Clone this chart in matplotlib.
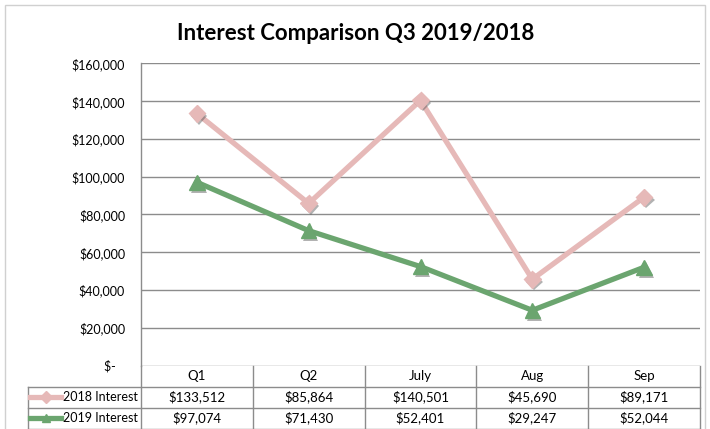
import matplotlib
matplotlib.use("Agg")
import matplotlib.pyplot as plt
import matplotlib.transforms as mtransforms
import matplotlib.patheffects as pe
from matplotlib.lines import Line2D
from matplotlib.patches import Rectangle

categories = ["Q1", "Q2", "July", "Aug", "Sep"]
series_names = ["2018 Interest", "2019 Interest"]
interest_2018 = [133512, 85864, 140501, 45690, 89171]
interest_2019 = [97074, 71430, 52401, 29247, 52044]
y_ticks = [0, 20000, 40000, 60000, 80000, 100000, 120000, 140000, 160000]
title = "Interest Comparison Q3 2019/2018"

plt.rcParams['font.family'] = ['Lato', 'DejaVu Sans']

W, H = 710, 429
fig = plt.figure(figsize=(W / 100, H / 100), dpi=100)

# outer chart border
fig.patches.append(Rectangle((5 / W, -0.1), 700 / W, 1.1 - 5 / H, transform=fig.transFigure,
                             fill=False, edgecolor="#D0D0D0", linewidth=1.0))

ax_left, ax_right, ax_top, ax_bot = 141, 700, 63.5, 365.5
ax = fig.add_axes([ax_left / W, 1 - ax_bot / H, (ax_right - ax_left) / W, (ax_bot - ax_top) / H])

pink = "#E6B9B8"
green = "#6BA56F"
grid_c = "#8C8C8C"
x = list(range(len(categories)))
shadow = [pe.SimplePatchShadow(offset=(1.5, -2), shadow_rgbFace="#555555", alpha=0.45), pe.Normal()]

ax.plot(x, interest_2018, color=pink, linewidth=3.8, solid_joinstyle="miter", zorder=3)
ax.plot(x, interest_2018, linestyle="none", marker="D", markersize=8.5, color=pink,
        path_effects=shadow, zorder=4)
ax.plot(x, interest_2019, color=green, linewidth=3.8, solid_joinstyle="miter", zorder=3)
ax.plot(x, interest_2019, linestyle="none", marker="^", markersize=11, color=green,
        path_effects=shadow, zorder=4)

ax.set_xlim(-0.5, len(categories) - 0.5)
ax.set_ylim(0, 160000)
ax.set_yticks(y_ticks)
ax.set_yticklabels(["$-   " if v == 0 else "${:,}".format(v) for v in y_ticks])
ax.set_xticks([])
ax.tick_params(axis="y", length=0, pad=11.5, labelsize=9, colors="#000000")
ax.yaxis.grid(True, color=grid_c, linewidth=1.0)
ax.set_axisbelow(True)
for s in ["top", "right", "bottom"]:
    ax.spines[s].set_visible(False)
ax.spines["left"].set_color(grid_c)
ax.spines["left"].set_linewidth(1.0)

fig.text(356 / W, 1 - 34 / H, title, ha="center", va="center", fontsize=16, fontweight="bold")

# data table
plot_h = ax_bot - ax_top
rh = 21 / plot_h
blend = mtransforms.blended_transform_factory(ax.transData, ax.transAxes)
left_x = (28 - ax_left) / (ax_right - ax_left)
n = len(categories)
lw = 1.0
for i in range(n + 1):
    ax.add_line(Line2D([i - 0.5, i - 0.5], [0, -3 * rh], transform=blend, color=grid_c,
                       linewidth=lw, clip_on=False))
for k in range(1, 4):
    ax.add_line(Line2D([left_x, 1], [-k * rh, -k * rh], transform=ax.transAxes, color=grid_c,
                       linewidth=lw, clip_on=False))
ax.add_line(Line2D([left_x, left_x], [-rh, -3 * rh], transform=ax.transAxes, color=grid_c,
                   linewidth=lw, clip_on=False))

for i, c in enumerate(categories):
    ax.text(i, -0.5 * rh, c, transform=blend, ha="center", va="center", fontsize=9.5)

rows = [interest_2018, interest_2019]
colors = [pink, green]
markers = ["D", "^"]
for r, (vals, name, col, mk) in enumerate(zip(rows, series_names, colors, markers)):
    yc = -(r + 1.5) * rh
    for i, v in enumerate(vals):
        ax.text(i, yc, "${:,}".format(v), transform=blend, ha="center", va="center", fontsize=9.5)
    ax.text(-0.005, yc, name, transform=ax.transAxes, ha="right", va="center", fontsize=9)
    x0 = (30 - ax_left) / (ax_right - ax_left)
    x1 = (61 - ax_left) / (ax_right - ax_left)
    ax.add_line(Line2D([x0, x1], [yc, yc], transform=ax.transAxes, color=col, linewidth=3.8,
                       clip_on=False))
    ax.add_line(Line2D([(x0 + x1) / 2], [yc], transform=ax.transAxes, color=col, marker=mk,
                       markersize=6, linestyle="none", clip_on=False))

fig.savefig("out.png", dpi=100)
